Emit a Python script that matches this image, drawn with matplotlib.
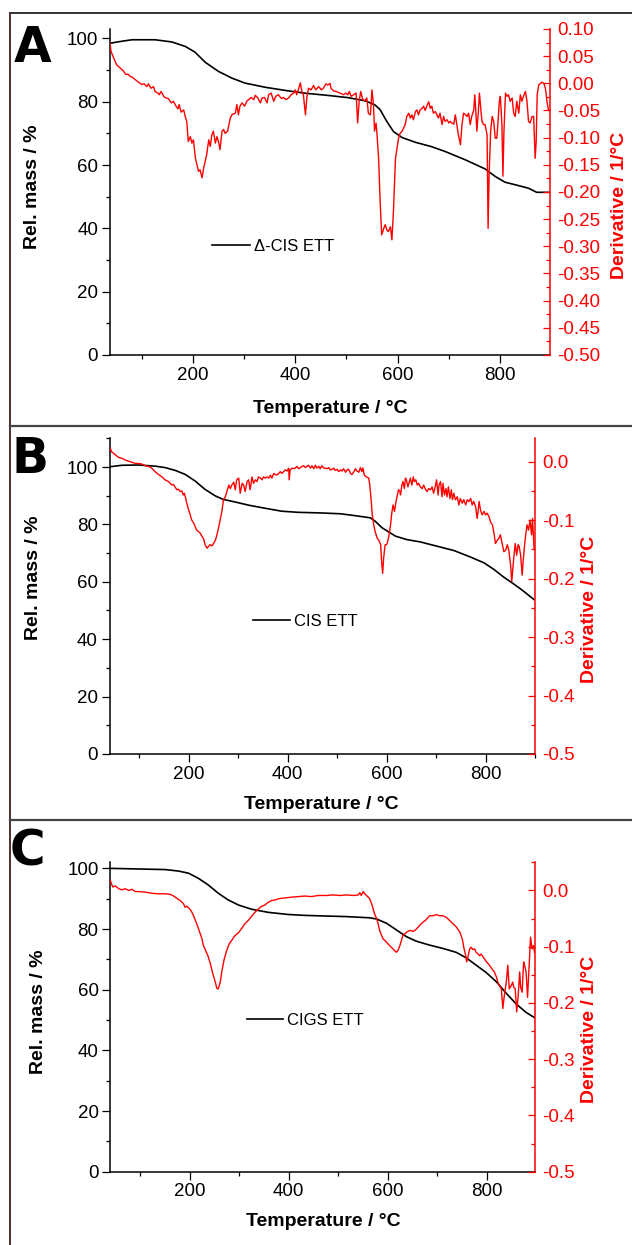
import matplotlib
matplotlib.use("Agg")
import matplotlib.pyplot as plt
from matplotlib.lines import Line2D
from matplotlib.ticker import MultipleLocator, FormatStrFormatter

plt.rcParams['font.family'] = ['Liberation Sans', 'DejaVu Sans']
plt.rcParams['axes.unicode_minus'] = False

# ---- Panel A: Δ-CIS ETT ----
a_mass_t = [38, 60, 81, 126, 159, 185, 204, 224, 250, 276, 302, 341, 380, 420, 465,
            504, 537, 556, 566, 579, 592, 609, 635, 667, 693, 732, 771, 791, 810,
            837, 856, 872, 895]
a_mass = [98.5, 99.1, 99.6, 99.6, 98.9, 97.5, 95.7, 92.5, 89.6, 87.5, 85.9, 84.6, 83.6,
          82.7, 82.0, 81.3, 80.3, 79.0, 77.5, 73.8, 70.6, 68.7, 67.2, 65.8, 64.3, 61.7,
          58.8, 56.4, 54.6, 53.5, 52.7, 51.4, 51.4]
a_der_t = [38, 40, 45, 51, 58, 64, 69, 73, 77, 82, 87, 94, 100, 105, 110, 113, 118, 123,
           126, 132, 134, 138, 143, 147, 152, 158, 162, 167, 171, 173, 177, 182, 185, 188,
           191, 195, 198, 201, 205, 208, 211, 214, 218, 221, 224, 227, 231, 234, 237, 240,
           244, 247, 250, 253, 257, 260, 263, 268, 273, 277, 283, 286, 289, 292, 296, 301,
           306, 309, 314, 319, 322, 327, 332, 335, 340, 345, 348, 353, 358, 362, 367, 373,
           377, 382, 387, 392, 397, 400, 403, 407, 410, 413, 416, 420, 423, 426, 431, 436,
           440, 446, 451, 455, 460, 464, 468, 470, 475, 480, 485, 490, 494, 499, 503, 506,
           509, 514, 519, 522, 525, 528, 532, 536, 540, 543, 547, 550, 553, 555, 558, 560,
           563, 566, 569, 573, 576, 579, 582, 586, 589, 592, 596, 599, 602, 605, 609, 612,
           615, 618, 622, 625, 628, 631, 635, 638, 641, 644, 648, 651, 654, 657, 661, 664,
           667, 670, 674, 677, 680, 683, 687, 690, 693, 697, 700, 703, 706, 710, 713, 716,
           719, 723, 726, 729, 732, 736, 739, 742, 745, 749, 751, 753, 755, 758, 760, 762,
           765, 768, 771, 775, 777, 779, 782, 785, 788, 791, 794, 796, 799, 801, 804, 806,
           808, 811, 814, 817, 820, 824, 827, 830, 833, 837, 840, 843, 846, 850, 853, 856,
           859, 863, 866, 869, 871, 873, 876, 882, 886, 889, 892, 895]
a_der = [0.074, 0.059, 0.047, 0.034, 0.028, 0.023, 0.016, 0.017, 0.013, 0.011, 0.007,
         0.002, -0.002, -0.001, -0.006, -0.001, -0.009, -0.006, -0.015, -0.018, -0.021,
         -0.015, -0.024, -0.027, -0.028, -0.036, -0.033, -0.042, -0.047, -0.039, -0.053,
         -0.049, -0.061, -0.070, -0.107, -0.098, -0.110, -0.104, -0.138, -0.150, -0.162,
         -0.159, -0.174, -0.156, -0.144, -0.131, -0.104, -0.116, -0.095, -0.088, -0.110,
         -0.098, -0.107, -0.122, -0.088, -0.085, -0.092, -0.088, -0.064, -0.057, -0.055,
         -0.039, -0.058, -0.042, -0.036, -0.042, -0.032, -0.030, -0.026, -0.030, -0.022,
         -0.027, -0.036, -0.027, -0.026, -0.036, -0.021, -0.018, -0.033, -0.024, -0.021,
         -0.028, -0.026, -0.030, -0.027, -0.021, -0.018, -0.012, -0.021, -0.009, 0.001,
         -0.015, -0.021, -0.058, -0.024, -0.009, -0.012, -0.004, -0.012, -0.006, -0.012,
         -0.009, -0.001, -0.003, 0.000, -0.009, -0.014, -0.015, -0.017, -0.019, -0.021,
         -0.018, -0.021, -0.015, -0.024, -0.021, -0.018, -0.073, -0.033, -0.015, -0.030,
         -0.032, -0.027, -0.055, -0.058, -0.012, -0.039, -0.088, -0.073, -0.095, -0.138,
         -0.217, -0.279, -0.267, -0.260, -0.270, -0.273, -0.264, -0.288, -0.236, -0.138,
         -0.119, -0.101, -0.092, -0.088, -0.082, -0.076, -0.061, -0.055, -0.064, -0.058,
         -0.067, -0.052, -0.049, -0.058, -0.049, -0.046, -0.042, -0.050, -0.042, -0.034,
         -0.046, -0.042, -0.055, -0.052, -0.058, -0.064, -0.055, -0.076, -0.061, -0.070,
         -0.067, -0.073, -0.070, -0.073, -0.075, -0.058, -0.076, -0.095, -0.113, -0.076,
         -0.055, -0.057, -0.061, -0.055, -0.076, -0.061, -0.049, -0.021, -0.052, -0.088,
         -0.052, -0.018, -0.039, -0.070, -0.076, -0.076, -0.095, -0.267, -0.168, -0.088,
         -0.061, -0.070, -0.101, -0.101, -0.076, -0.033, -0.024, -0.076, -0.171, -0.088,
         -0.018, -0.024, -0.021, -0.033, -0.027, -0.055, -0.061, -0.033, -0.055, -0.021,
         -0.033, -0.024, -0.015, -0.033, -0.070, -0.073, -0.061, -0.061, -0.138, -0.107,
         -0.021, -0.003, 0.002, 0.000, -0.009, -0.033, -0.049]

# ---- Panel B: CIS ETT ----
b_mass_t = [41, 65, 98, 132, 152, 173, 193, 213, 233, 254, 270, 294, 321, 355, 388, 422,
            466, 507, 534, 567, 577, 591, 604, 618, 641, 668, 702, 736, 770, 797, 817,
            837, 854, 871, 888, 898]
b_mass = [100.1, 100.6, 100.7, 100.3, 99.8, 98.8, 97.4, 95.1, 92.2, 89.9, 88.7, 87.8,
          86.7, 85.6, 84.6, 84.2, 84.0, 83.7, 83.1, 82.3, 81.1, 78.8, 77.4, 75.9, 74.7,
          73.9, 72.4, 70.9, 68.6, 66.6, 64.3, 61.6, 59.6, 57.5, 55.2, 53.8]
b_der_t = [41, 44, 50, 54, 59, 65, 71, 78, 85, 92, 98, 105, 112, 119, 125, 132, 139, 146,
           152, 159, 166, 169, 173, 176, 179, 183, 186, 189, 191, 194, 196, 200, 203, 206,
           210, 213, 216, 220, 223, 227, 230, 233, 237, 240, 243, 247, 250, 254, 257, 260,
           264, 267, 270, 274, 277, 281, 284, 287, 291, 294, 297, 301, 304, 308, 311, 314,
           318, 321, 324, 328, 331, 335, 338, 341, 345, 348, 351, 355, 358, 362, 365, 368,
           372, 375, 378, 382, 385, 388, 392, 395, 399, 402, 403, 405, 409, 412, 415, 419,
           422, 426, 429, 432, 436, 439, 442, 446, 449, 453, 456, 459, 463, 466, 469, 473,
           476, 480, 483, 486, 490, 493, 496, 500, 503, 507, 510, 513, 517, 520, 523, 527,
           530, 534, 537, 540, 544, 547, 550, 552, 555, 559, 564, 566, 569, 571, 574, 577,
           581, 584, 588, 590, 592, 594, 597, 600, 602, 605, 608, 610, 613, 616, 619, 621,
           624, 627, 628, 631, 633, 636, 638, 640, 643, 646, 648, 651, 654, 656, 659, 662,
           665, 668, 672, 675, 679, 682, 685, 689, 692, 695, 699, 701, 704, 706, 709, 712,
           714, 717, 720, 722, 725, 728, 731, 733, 736, 739, 743, 746, 749, 753, 756, 760,
           763, 766, 770, 773, 776, 780, 783, 785, 787, 790, 793, 797, 800, 803, 807, 810,
           814, 817, 820, 824, 827, 830, 834, 837, 841, 844, 847, 851, 853, 855, 857, 860,
           863, 866, 868, 871, 874, 876, 879, 882, 884, 887, 890, 893, 895, 898]
b_der = [0.024, 0.017, 0.013, 0.010, 0.007, 0.006, 0.003, 0.001, -0.001, -0.003, -0.003,
         -0.004, -0.007, -0.008, -0.011, -0.017, -0.022, -0.026, -0.031, -0.034, -0.040,
         -0.039, -0.044, -0.048, -0.047, -0.051, -0.050, -0.057, -0.054, -0.063, -0.071,
         -0.083, -0.091, -0.100, -0.105, -0.111, -0.117, -0.120, -0.122, -0.128, -0.132,
         -0.142, -0.148, -0.145, -0.142, -0.144, -0.140, -0.134, -0.125, -0.114, -0.097,
         -0.085, -0.066, -0.060, -0.051, -0.040, -0.046, -0.040, -0.035, -0.048, -0.031,
         -0.028, -0.054, -0.037, -0.040, -0.051, -0.034, -0.031, -0.048, -0.026, -0.037,
         -0.031, -0.034, -0.026, -0.028, -0.031, -0.026, -0.028, -0.026, -0.028, -0.023,
         -0.028, -0.020, -0.022, -0.023, -0.020, -0.017, -0.020, -0.017, -0.014, -0.016,
         -0.011, -0.031, -0.014, -0.011, -0.012, -0.011, -0.008, -0.012, -0.010, -0.008,
         -0.007, -0.010, -0.008, -0.006, -0.011, -0.007, -0.012, -0.006, -0.011, -0.008,
         -0.012, -0.007, -0.011, -0.011, -0.012, -0.010, -0.014, -0.013, -0.011, -0.015,
         -0.013, -0.017, -0.014, -0.016, -0.012, -0.018, -0.014, -0.013, -0.020, -0.022,
         -0.017, -0.012, -0.016, -0.018, -0.010, -0.017, -0.011, -0.023, -0.026, -0.028,
         -0.040, -0.068, -0.091, -0.108, -0.120, -0.131, -0.134, -0.142, -0.171, -0.191,
         -0.165, -0.142, -0.142, -0.137, -0.125, -0.108, -0.091, -0.074, -0.085, -0.068,
         -0.060, -0.048, -0.051, -0.057, -0.040, -0.034, -0.046, -0.028, -0.031, -0.043,
         -0.034, -0.028, -0.040, -0.026, -0.034, -0.031, -0.040, -0.037, -0.043, -0.046,
         -0.040, -0.048, -0.051, -0.046, -0.048, -0.043, -0.054, -0.040, -0.031, -0.057,
         -0.040, -0.034, -0.060, -0.037, -0.057, -0.046, -0.060, -0.043, -0.063, -0.048,
         -0.065, -0.054, -0.065, -0.060, -0.074, -0.063, -0.071, -0.065, -0.074, -0.065,
         -0.068, -0.063, -0.074, -0.068, -0.077, -0.097, -0.085, -0.068, -0.083, -0.091,
         -0.085, -0.091, -0.088, -0.094, -0.103, -0.108, -0.122, -0.140, -0.134, -0.131,
         -0.125, -0.142, -0.154, -0.151, -0.142, -0.151, -0.180, -0.205, -0.185, -0.165,
         -0.140, -0.160, -0.142, -0.145, -0.160, -0.194, -0.171, -0.142, -0.120, -0.108,
         -0.117, -0.100, -0.125, -0.097, -0.148]

# ---- Panel C: CIGS ETT ----
c_mass_t = [40, 97, 151, 178, 198, 218, 238, 258, 278, 299, 326, 359, 399, 433, 473,
            517, 564, 578, 598, 618, 638, 658, 685, 712, 739, 759, 779, 799, 820, 840,
            860, 880, 897]
c_mass = [100.0, 99.8, 99.6, 99.1, 98.4, 96.7, 94.5, 91.8, 89.6, 87.9, 86.5, 85.5, 84.8,
          84.5, 84.3, 84.1, 83.7, 83.3, 81.9, 79.7, 77.5, 76.0, 74.7, 73.6, 72.3, 70.5,
          68.1, 65.7, 62.6, 58.8, 55.3, 52.5, 50.8]
c_der_t = [40, 42, 45, 50, 57, 63, 70, 77, 84, 90, 97, 110, 124, 137, 151, 161, 168, 174,
           181, 188, 191, 194, 198, 203, 208, 213, 218, 225, 228, 231, 237, 242, 246, 252,
           255, 258, 262, 265, 270, 275, 280, 285, 292, 299, 305, 312, 319, 326, 332, 339,
           346, 352, 359, 366, 373, 379, 386, 396, 406, 420, 433, 446, 460, 476, 490, 504,
           517, 531, 541, 544, 547, 551, 554, 561, 564, 568, 571, 574, 578, 581, 584, 588,
           591, 598, 604, 611, 618, 621, 625, 628, 631, 635, 639, 645, 652, 658, 665, 672,
           677, 682, 685, 692, 699, 705, 712, 719, 725, 732, 739, 746, 751, 754, 758, 760,
           763, 766, 769, 772, 776, 779, 783, 786, 789, 793, 799, 806, 813, 816, 820, 823,
           826, 830, 833, 836, 840, 843, 846, 850, 853, 855, 858, 861, 864, 867, 869, 872,
           875, 877, 880, 883, 887, 889, 892, 895, 897]
c_der = [0.018, 0.012, 0.006, 0.008, 0.003, 0.001, 0.003, 0.000, 0.002, -0.002, -0.002,
         -0.003, -0.005, -0.006, -0.006, -0.007, -0.010, -0.014, -0.018, -0.024, -0.030,
         -0.028, -0.031, -0.036, -0.045, -0.056, -0.068, -0.086, -0.098, -0.104, -0.116,
         -0.130, -0.145, -0.163, -0.174, -0.175, -0.163, -0.145, -0.122, -0.107, -0.095,
         -0.089, -0.080, -0.075, -0.068, -0.059, -0.053, -0.045, -0.039, -0.033, -0.028,
         -0.026, -0.021, -0.018, -0.017, -0.015, -0.014, -0.013, -0.012, -0.011, -0.010,
         -0.011, -0.009, -0.009, -0.008, -0.009, -0.008, -0.009, -0.008, -0.004, -0.009,
         -0.002, -0.006, -0.012, -0.015, -0.024, -0.033, -0.042, -0.050, -0.059, -0.071,
         -0.080, -0.086, -0.092, -0.098, -0.104, -0.110, -0.107, -0.098, -0.089, -0.080,
         -0.077, -0.074, -0.071, -0.073, -0.069, -0.062, -0.056, -0.053, -0.048, -0.045,
         -0.045, -0.043, -0.045, -0.045, -0.048, -0.053, -0.059, -0.065, -0.074, -0.086,
         -0.101, -0.116, -0.127, -0.116, -0.104, -0.101, -0.105, -0.104, -0.110, -0.113,
         -0.116, -0.113, -0.118, -0.126, -0.133, -0.142, -0.145, -0.154, -0.163, -0.169,
         -0.175, -0.210, -0.187, -0.163, -0.133, -0.175, -0.169, -0.163, -0.172, -0.175,
         -0.216, -0.187, -0.145, -0.172, -0.181, -0.127, -0.133, -0.145, -0.190, -0.121,
         -0.083, -0.104, -0.098, -0.110]

panels = [
    dict(letter='A', rect=[0.17405, 0.71486, 0.69620, 0.26185], ylim=(0, 103),
         xlim=(38, 898), rlim=(-0.5, 0.1), rmajor=0.05, rminor=0.025, rfmt='%.2f',
         mass=(a_mass_t, a_mass), der=(a_der_t, a_der), name='Δ-CIS ETT',
         leg=(0.3354, 0.8024), handle=2.3,
         ylab=(-0.175, 0.516), rlab=(1.157, 0.46), xlab=(0.501, -0.163),
         let_xy=(14 / 632, 1 - 62 / 1245)),
    dict(letter='B', rect=[0.17342, 0.39438, 0.67310, 0.25357], ylim=(0, 110),
         xlim=(40, 900), rlim=(-0.5, 0.04), rmajor=0.1, rminor=0.05, rfmt='%.1f',
         mass=(b_mass_t, b_mass), der=(b_der_t, b_der), name='CIS ETT',
         leg=(0.4003, 0.5012), handle=2.2,
         ylab=(-0.178, 0.557), rlab=(1.129, 0.459), xlab=(0.498, -0.1615),
         let_xy=(12 / 632, 1 - 473 / 1245)),
    dict(letter='C', rect=[0.17468, 0.05888, 0.67184, 0.24851], ylim=(0, 102),
         xlim=(40, 898), rlim=(-0.5, 0.05), rmajor=0.1, rminor=0.05, rfmt='%.1f',
         mass=(c_mass_t, c_mass), der=(c_der_t, c_der), name='CIGS ETT',
         leg=(0.3908, 0.1801), handle=2.15,
         ylab=(-0.1705, 0.517), rlab=(1.1295, 0.46), xlab=(0.502, -0.1616),
         let_xy=(10 / 632, 1 - 866 / 1245)),
]

fig = plt.figure(figsize=(6.32, 12.45), dpi=100)

for p in panels:
    ax = fig.add_axes(p['rect'])
    ax2 = ax.twinx()

    ax.plot(p['mass'][0], p['mass'][1], color='black', lw=1.2, label=p['name'])
    ax2.plot(p['der'][0], p['der'][1], color='red', lw=1.0)

    ax.set_xlim(*p['xlim'])
    ax.set_ylim(*p['ylim'])
    ax2.set_ylim(*p['rlim'])

    ax.xaxis.set_major_locator(MultipleLocator(200))
    ax.xaxis.set_minor_locator(MultipleLocator(100))
    ax.yaxis.set_major_locator(MultipleLocator(20))
    ax.yaxis.set_minor_locator(MultipleLocator(10))
    ax2.yaxis.set_major_locator(MultipleLocator(p['rmajor']))
    ax2.yaxis.set_minor_locator(MultipleLocator(p['rminor']))
    ax2.yaxis.set_major_formatter(FormatStrFormatter(p['rfmt']))

    for a in (ax, ax2):
        a.spines['top'].set_visible(False)
    ax.spines['right'].set_visible(False)
    ax2.spines['left'].set_visible(False)
    ax2.spines['bottom'].set_visible(False)
    ax.spines['left'].set_linewidth(1.1)
    ax.spines['bottom'].set_linewidth(1.1)
    ax2.spines['right'].set_linewidth(1.1)
    ax2.spines['right'].set_color('red')

    ax.tick_params(which='major', direction='out', length=6, width=0.9,
                   labelsize=13.5, pad=2.5)
    ax.tick_params(which='minor', direction='out', length=3, width=0.9)
    ax2.tick_params(which='major', direction='in', length=5, width=0.9,
                    colors='red', labelsize=13.5, pad=5)
    ax2.tick_params(which='minor', direction='in', length=3, width=0.9, colors='red')

    ax.set_xlabel('Temperature / °C', fontsize=14, fontweight='bold')
    ax.set_ylabel('Rel. mass / %', fontsize=14, fontweight='bold')
    ax2.set_ylabel('Derivative / 1/°C', fontsize=14, fontweight='bold', color='red')
    ax.xaxis.label.set_verticalalignment('center')
    ax.yaxis.label.set_verticalalignment('center')
    ax2.yaxis.label.set_verticalalignment('center')
    ax.xaxis.set_label_coords(*p['xlab'])
    ax.yaxis.set_label_coords(*p['ylab'])
    ax2.yaxis.set_label_coords(*p['rlab'])

    ax.legend(loc='center left', bbox_to_anchor=p['leg'], bbox_transform=fig.transFigure,
              frameon=False, fontsize=12, borderpad=0, borderaxespad=0,
              handlelength=p['handle'], handletextpad=0.25)

    fig.text(p['let_xy'][0], p['let_xy'][1], p['letter'], fontsize=35,
             fontweight='bold', family='DejaVu Sans', ha='left', va='baseline')

# panel frame lines
def fline(x0, y0, x1, y1, color, lw):
    fig.add_artist(Line2D([x0 / 632, x1 / 632], [1 - y0 / 1245, 1 - y1 / 1245],
                          transform=fig.transFigure, color=color, lw=lw))

fline(10, 13, 632, 13, '#333333', 1.4)
fline(10, 13, 10, 1245, '#4d3030', 1.4)
fline(10, 426.5, 632, 426.5, '#444444', 1.6)
fline(10, 820, 632, 820, '#444444', 1.6)

fig.savefig('out.png', dpi=100)
